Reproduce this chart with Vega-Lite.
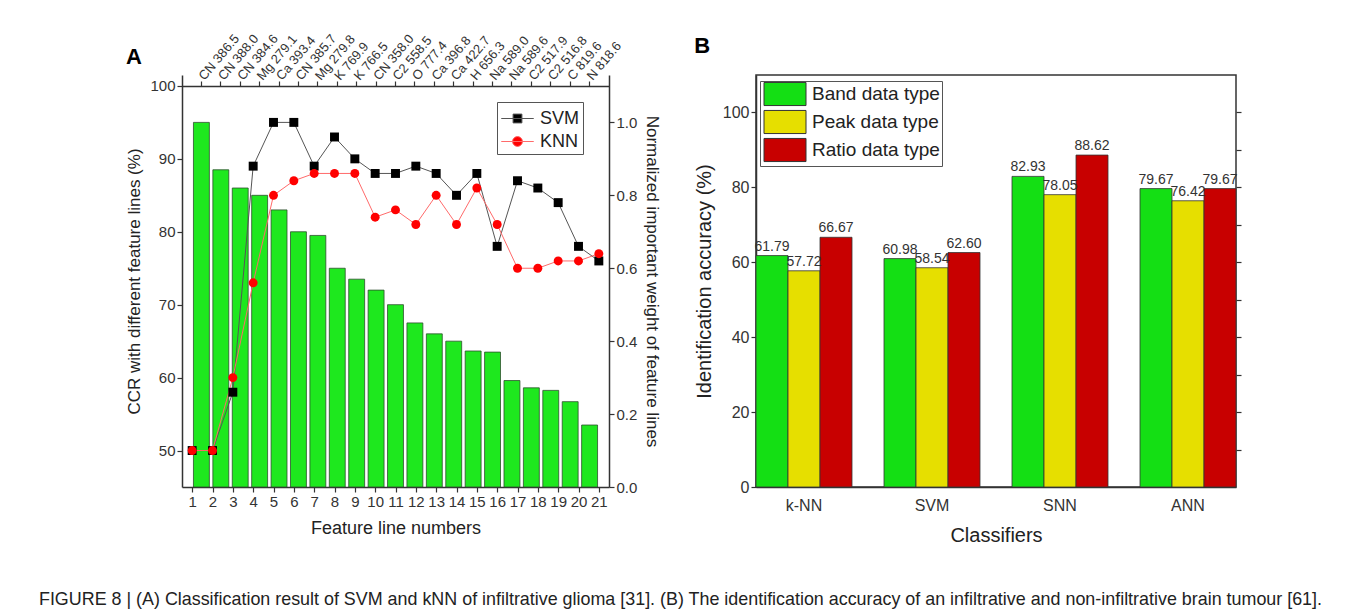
{
  "$schema": "https://vega.github.io/schema/vega-lite/v6.json",
  "background": "white",
  "padding": {"left": 38, "top": 32, "right": 10, "bottom": 5},
  "config": {
    "font": "Liberation Sans",
    "view": {"stroke": "#333333", "strokeWidth": 1.5},
    "axis": {"domainColor": "#333333", "domainWidth": 1.5, "tickColor": "#333333", "tickWidth": 1.2, "labelColor": "#333333", "titleColor": "#222222", "labelFont": "Liberation Sans", "titleFont": "Liberation Sans", "titleFontWeight": "normal", "grid": false}
  },
  "datasets": {
    "weights": [
      {"n": 1, "line": "CN 386.5", "weight": 1.0},
      {"n": 2, "line": "CN 388.0", "weight": 0.87},
      {"n": 3, "line": "CN 384.6", "weight": 0.82},
      {"n": 4, "line": "Mg 279.1", "weight": 0.8},
      {"n": 5, "line": "Ca 393.4", "weight": 0.76},
      {"n": 6, "line": "CN 385.7", "weight": 0.7},
      {"n": 7, "line": "Mg 279.8", "weight": 0.69},
      {"n": 8, "line": "K 769.9", "weight": 0.6},
      {"n": 9, "line": "K 766.5", "weight": 0.57},
      {"n": 10, "line": "CN 358.0", "weight": 0.54},
      {"n": 11, "line": "C2 558.5", "weight": 0.5},
      {"n": 12, "line": "O 777.4", "weight": 0.45},
      {"n": 13, "line": "Ca 396.8", "weight": 0.42},
      {"n": 14, "line": "Ca 422.7", "weight": 0.4},
      {"n": 15, "line": "H 656.3", "weight": 0.373},
      {"n": 16, "line": "Na 589.0", "weight": 0.37},
      {"n": 17, "line": "Na 589.6", "weight": 0.292},
      {"n": 18, "line": "C2 517.9", "weight": 0.272},
      {"n": 19, "line": "C2 516.8", "weight": 0.265},
      {"n": 20, "line": "C 819.6", "weight": 0.234},
      {"n": 21, "line": "N 818.6", "weight": 0.17}
    ],
    "ccr": [
      {"n": 1, "method": "SVM", "ccr": 50},
      {"n": 2, "method": "SVM", "ccr": 50},
      {"n": 3, "method": "SVM", "ccr": 58},
      {"n": 4, "method": "SVM", "ccr": 89},
      {"n": 5, "method": "SVM", "ccr": 95},
      {"n": 6, "method": "SVM", "ccr": 95},
      {"n": 7, "method": "SVM", "ccr": 89},
      {"n": 8, "method": "SVM", "ccr": 93},
      {"n": 9, "method": "SVM", "ccr": 90},
      {"n": 10, "method": "SVM", "ccr": 88},
      {"n": 11, "method": "SVM", "ccr": 88},
      {"n": 12, "method": "SVM", "ccr": 89},
      {"n": 13, "method": "SVM", "ccr": 88},
      {"n": 14, "method": "SVM", "ccr": 85},
      {"n": 15, "method": "SVM", "ccr": 88},
      {"n": 16, "method": "SVM", "ccr": 78},
      {"n": 17, "method": "SVM", "ccr": 87},
      {"n": 18, "method": "SVM", "ccr": 86},
      {"n": 19, "method": "SVM", "ccr": 84},
      {"n": 20, "method": "SVM", "ccr": 78},
      {"n": 21, "method": "SVM", "ccr": 76},
      {"n": 1, "method": "KNN", "ccr": 50},
      {"n": 2, "method": "KNN", "ccr": 50},
      {"n": 3, "method": "KNN", "ccr": 60},
      {"n": 4, "method": "KNN", "ccr": 73},
      {"n": 5, "method": "KNN", "ccr": 85},
      {"n": 6, "method": "KNN", "ccr": 87},
      {"n": 7, "method": "KNN", "ccr": 88},
      {"n": 8, "method": "KNN", "ccr": 88},
      {"n": 9, "method": "KNN", "ccr": 88},
      {"n": 10, "method": "KNN", "ccr": 82},
      {"n": 11, "method": "KNN", "ccr": 83},
      {"n": 12, "method": "KNN", "ccr": 81},
      {"n": 13, "method": "KNN", "ccr": 85},
      {"n": 14, "method": "KNN", "ccr": 81},
      {"n": 15, "method": "KNN", "ccr": 86},
      {"n": 16, "method": "KNN", "ccr": 81},
      {"n": 17, "method": "KNN", "ccr": 75},
      {"n": 18, "method": "KNN", "ccr": 75},
      {"n": 19, "method": "KNN", "ccr": 76},
      {"n": 20, "method": "KNN", "ccr": 76},
      {"n": 21, "method": "KNN", "ccr": 77}
    ],
    "acc": [
      {"classifier": "k-NN", "type": "Band data type", "acc": 61.79},
      {"classifier": "k-NN", "type": "Peak data type", "acc": 57.72},
      {"classifier": "k-NN", "type": "Ratio data type", "acc": 66.67},
      {"classifier": "SVM", "type": "Band data type", "acc": 60.98},
      {"classifier": "SVM", "type": "Peak data type", "acc": 58.54},
      {"classifier": "SVM", "type": "Ratio data type", "acc": 62.6},
      {"classifier": "SNN", "type": "Band data type", "acc": 82.93},
      {"classifier": "SNN", "type": "Peak data type", "acc": 78.05},
      {"classifier": "SNN", "type": "Ratio data type", "acc": 88.62},
      {"classifier": "ANN", "type": "Band data type", "acc": 79.67},
      {"classifier": "ANN", "type": "Peak data type", "acc": 76.42},
      {"classifier": "ANN", "type": "Ratio data type", "acc": 79.67}
    ]
  },
  "title": {
    "text": "FIGURE 8 | (A) Classification result of SVM and kNN of infiltrative glioma [31]. (B) The identification accuracy of an infiltrative and non-infiltrative brain tumour [61].",
    "orient": "bottom", "anchor": "start", "frame": "bounds", "fontSize": 17.9, "fontWeight": "normal", "color": "#222222", "dx": -87, "offset": 45
  },
  "spacing": 32,
  "resolve": {
    "scale": {"fill": "independent", "shape": "independent", "stroke": "independent"},
    "legend": {"fill": "independent", "shape": "independent", "stroke": "independent"}
  },
  "hconcat": [
    {
      "width": 427,
      "height": 412,
      "view": {"stroke": null},
      "title": {"text": "A", "anchor": "start", "frame": "bounds", "fontSize": 22, "fontWeight": "bold", "color": "#000000", "offset": -37},
      "layer": [
        {
          "data": {"name": "weights"},
          "mark": {"type": "bar", "color": "#1ee81e", "stroke": "#2d4f2d", "strokeWidth": 0.8},
          "encoding": {
            "x": {"field": "line", "type": "nominal", "sort": null,
              "scale": {"paddingInner": 0.18, "paddingOuter": 0.59},
              "axis": {"orient": "top", "offset": -11, "title": null, "labelAngle": -50, "labelAlign": "left", "labelBaseline": "middle", "labelFontSize": 13, "labelOverlap": false, "labelPadding": 3, "tickSize": 5, "labelLimit": 0}},
            "y": {"field": "weight", "type": "quantitative",
              "scale": {"domain": [0, 1.13], "nice": false},
              "axis": {"orient": "right", "values": [0, 0.2, 0.4, 0.6, 0.8, 1.0], "format": ".1f", "title": "Normalized important weight of feature lines", "labelFontSize": 15, "titleFontSize": 17, "titlePadding": 6}}
          }
        },
        {
          "data": {"name": "ccr"},
          "encoding": {
            "x": {"field": "n", "type": "ordinal",
              "scale": {"paddingInner": 0.18, "paddingOuter": 0.59},
              "axis": {"orient": "bottom", "title": "Feature line numbers", "labelAngle": 0, "labelFontSize": 15, "titleFontSize": 18, "titlePadding": 10}},
            "y": {"field": "ccr", "type": "quantitative",
              "scale": {"domain": [45, 101.5], "nice": false, "zero": false},
              "axis": {"orient": "left", "values": [50, 60, 70, 80, 90, 100], "title": "CCR with different feature lines (%)", "labelFontSize": 15, "titleFontSize": 17, "titlePadding": 6}}
          },
          "layer": [
            {
              "mark": {"type": "line", "strokeWidth": 1},
              "encoding": {"stroke": {"field": "method", "type": "nominal", "scale": {"domain": ["SVM", "KNN"], "range": ["#555555", "#ff6a6a"]}}}
            },
            {
              "transform": [{"filter": "datum.method === 'SVM'"}],
              "mark": {"type": "point", "shape": "square", "filled": true, "size": 80, "opacity": 1, "color": "#000000"}
            },
            {
              "transform": [{"filter": "datum.method === 'KNN'"}],
              "mark": {"type": "point", "shape": "circle", "filled": true, "size": 80, "opacity": 1, "color": "#ff0000"}
            },
            {
              "mark": {"type": "point", "filled": true, "size": 0, "strokeWidth": 1, "opacity": 1},
              "encoding": {
                "fill": {"field": "method", "type": "nominal", "scale": {"domain": ["SVM", "KNN"], "range": ["#000000", "#ff0000"]},
                  "legend": {"title": null, "orient": "none", "legendX": 315, "legendY": 27, "labelFontSize": 18, "labelColor": "#222222", "strokeColor": "#555555", "fillColor": "white", "padding": 3, "symbolSize": 676, "rowPadding": 0, "symbolOffset": 4, "labelOffset": 9, "symbolStrokeWidth": 1, "symbolOpacity": 1}},
                "stroke": {"field": "method", "type": "nominal", "scale": {"domain": ["SVM", "KNN"], "range": ["#555555", "#ff6a6a"]}},
                "shape": {"field": "method", "type": "nominal", "scale": {"domain": ["SVM", "KNN"], "range": ["M-1.25,0H1.25M-0.34,-0.34H0.34V0.34H-0.34Z", "M-1.25,0H1.25M0.38,0A0.38,0.38 0 1,1 -0.38,0A0.38,0.38 0 1,1 0.38,0Z"]}}
              }
            }
          ]
        }
      ],
      "resolve": {"scale": {"x": "independent", "y": "independent"}}
    },
    {
      "width": 480,
      "height": 412,
      "title": {"text": "B", "anchor": "start", "frame": "bounds", "fontSize": 22, "fontWeight": "bold", "color": "#000000", "offset": 17},
      "data": {"name": "acc"},
      "encoding": {
        "x": {"field": "classifier", "type": "nominal", "sort": null,
          "scale": {"paddingInner": 0.25, "paddingOuter": 0},
          "axis": {"title": "Classifiers", "labelAngle": 0, "labelFontSize": 16, "titleFontSize": 20, "ticks": false, "labelPadding": 10, "titlePadding": 12}},
        "xOffset": {"field": "type", "type": "nominal", "sort": null, "scale": {"paddingInner": 0, "paddingOuter": 0}}
      },
      "layer": [
        {
          "mark": {"type": "bar", "stroke": "#333333", "strokeWidth": 0.8},
          "encoding": {
            "y": {"field": "acc", "type": "quantitative",
              "scale": {"domain": [0, 110], "nice": false},
              "axis": {"values": [0, 20, 40, 60, 80, 100], "title": "Identification accuracy (%)", "labelFontSize": 16, "titleFontSize": 20, "titlePadding": 8}},
            "fill": {"field": "type", "type": "nominal", "sort": null,
              "scale": {"domain": ["Band data type", "Peak data type", "Ratio data type"], "range": ["#14df14", "#e6df00", "#c80000"]},
              "legend": {"title": null, "orient": "none", "legendX": 4, "legendY": 6, "labelFontSize": 19, "labelColor": "#222222", "strokeColor": "#555555", "fillColor": "white", "padding": 2, "symbolSize": 441, "rowPadding": 0, "symbolOffset": 12, "labelOffset": 16, "symbolStrokeColor": "#333333", "symbolStrokeWidth": 1,
                "symbolType": "M-2,-1.1H2V1.1H-2Z"}
            }
          }
        },
        {
          "mark": {"type": "text", "baseline": "bottom", "dy": -2, "fontSize": 14, "color": "#333333"},
          "encoding": {
            "y": {"field": "acc", "type": "quantitative",
              "scale": {"domain": [0, 110], "nice": false},
              "axis": {"orient": "right", "values": [10, 20, 30, 40, 50, 60, 70, 80, 90, 100], "labels": false, "title": null, "tickSize": 5, "domain": false}},
            "text": {"field": "acc", "type": "quantitative", "format": ".2f"}
          }
        }
      ],
      "resolve": {"axis": {"y": "independent"}}
    }
  ]
}
